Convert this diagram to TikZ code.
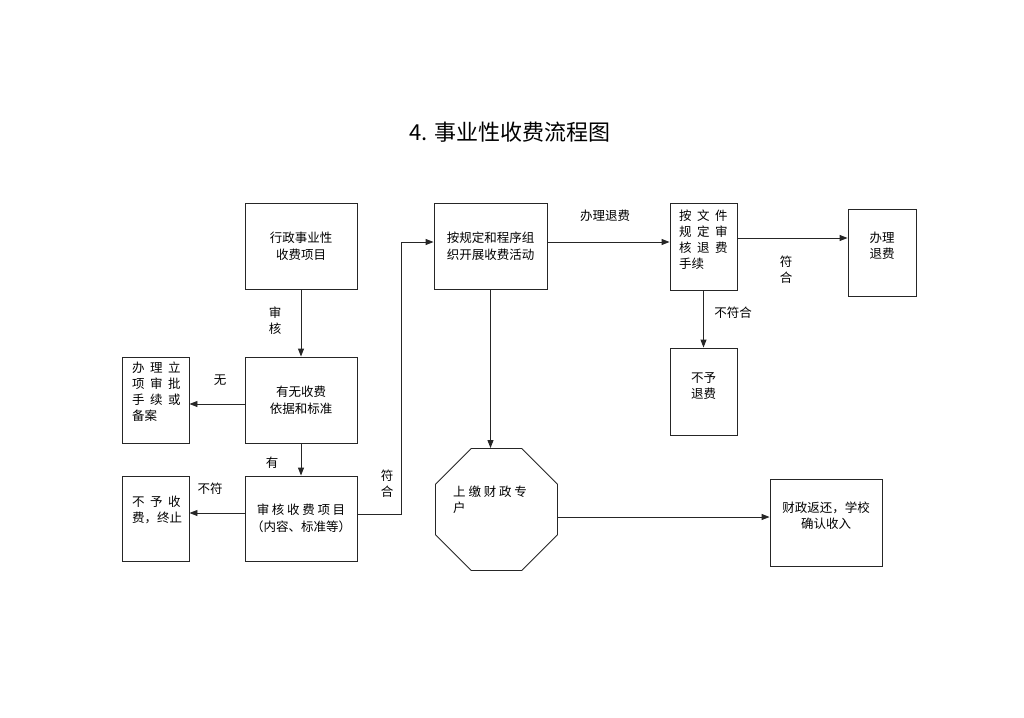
\documentclass[tikz,border=0pt]{standalone}
\usepackage{fontspec}
\setmainfont{Noto Sans CJK SC}
\usetikzlibrary{arrows.meta,shapes.geometric}
\tikzset{
  box/.style={draw=black!85, line width=0.9pt, inner sep=0pt, align=center,
    font=\fontsize{12.5}{17}\selectfont},
  lbl/.style={inner sep=0pt, align=center, font=\fontsize{12.5}{16}\selectfont},
  arr/.style={draw=black!85, line width=0.9pt, -{Triangle[length=8pt,width=6pt]}},
  ln/.style={draw=black!85, line width=0.9pt},
}
\newcommand{\gs}{\hspace{5.5pt}}
\begin{document}
\begin{tikzpicture}[x=1pt,y=-1pt]
\useasboundingbox (0,0) rectangle (1024,717);
% title
\node[inner sep=0pt, font=\fontsize{22}{24}\selectfont] (title) at (510,132) {4. 事业性收费流程图};
% boxes
\node[box, minimum width=112pt, minimum height=86pt] (A) at (301,246) {行政事业性\\收费项目};
\node[box, minimum width=112pt, minimum height=86pt] (B) at (301,400) {有无收费\\依据和标准};
\node[box, minimum width=67pt, minimum height=86pt] (C) at (155.5,400) {};
\node[lbl, align=left, anchor=north west] (Ct) at (132,362) {办\gs 理\gs 立\\项\gs 审\gs 批\\手\gs 续\gs 或\\备案};
\node[box, minimum width=112pt, minimum height=85pt] (D) at (301,518.5) {审\hspace{2.7pt}核\hspace{2.7pt}收\hspace{2.7pt}费\hspace{2.7pt}项\hspace{2.7pt}目\\（内容、标准等）};
\node[box, minimum width=67pt, minimum height=85pt] (E) at (155.5,518.5) {};
\node[lbl, align=left, anchor=north west] (Et) at (132,496) {不\gs 予\gs 收\\费，终止};
\node[box, minimum width=113pt, minimum height=86pt] (F) at (490.5,246) {按规定和程序组\\织开展收费活动};
\node[box, minimum width=67pt, minimum height=87pt] (H) at (703.5,246.5) {};
\node[lbl, align=left, anchor=north west] (Ht) at (679,210) {按\gs 文\gs 件\\规\gs 定\gs 审\\核\gs 退\gs 费\\手续};
\node[box, minimum width=68pt, minimum height=87pt] (I) at (882,252.5) {};
\node[lbl] (It) at (882,246) {办理\\退费};
\node[box, minimum width=67pt, minimum height=87pt] (J) at (703.5,391.5) {};
\node[lbl] (Jt) at (703.5,386) {不予\\退费};
\node[box, minimum width=112pt, minimum height=87pt] (G) at (826,522.5) {};
\node[lbl] (Gt) at (826,516) {财政返还，学校\\确认收入};
\node[box, regular polygon, regular polygon sides=8, minimum size=132pt] (oct) at (496.5,509.5) {};
\node[lbl, align=left, anchor=north west] (octt) at (453,486) {上\hspace{2.8pt}缴\hspace{2.8pt}财\hspace{2.8pt}政\hspace{2.8pt}专\\户};
% connectors
\draw[arr] (A.south) -- (B.north);
\draw[arr] ([yshift=-4pt]B.west) -- ([yshift=-4pt]C.east);
\draw[arr] (B.south) -- (D.north);
\draw[arr] ([yshift=5.5pt]D.east -| D.west) -- ([yshift=5.5pt]E.east);
\coordinate (dk) at (401,514);
\draw[arr] ([yshift=4.5pt]D.east) -- (dk) |- ([yshift=4pt]F.west);
\draw[arr] (F.south) -- (F.south |- oct.north);
\draw[arr] ([yshift=-7.5pt]oct.east) coordinate (o1) -- (o1 -| G.west);
\draw[arr] ([yshift=4pt]F.east) coordinate (f1) -- (f1 -| H.west);
\draw[arr] ([yshift=8.5pt]H.east) coordinate (h1) -- (h1 -| I.west);
\draw[arr] (H.south) -- (J.north);
% labels
\node[lbl] (l1) at (275,320.5) {审\\核};
\node[lbl] (l2) at (220,380) {无};
\node[lbl] (l3) at (272,463) {有};
\node[lbl] (l4) at (210,489) {不符};
\node[lbl] (l5) at (387,484) {符\\合};
\node[lbl] (l6) at (605,216) {办理退费};
\node[lbl] (l7) at (786,269.5) {符\\合};
\node[lbl] (l8) at (733,313) {不符合};
\end{tikzpicture}
\end{document}
